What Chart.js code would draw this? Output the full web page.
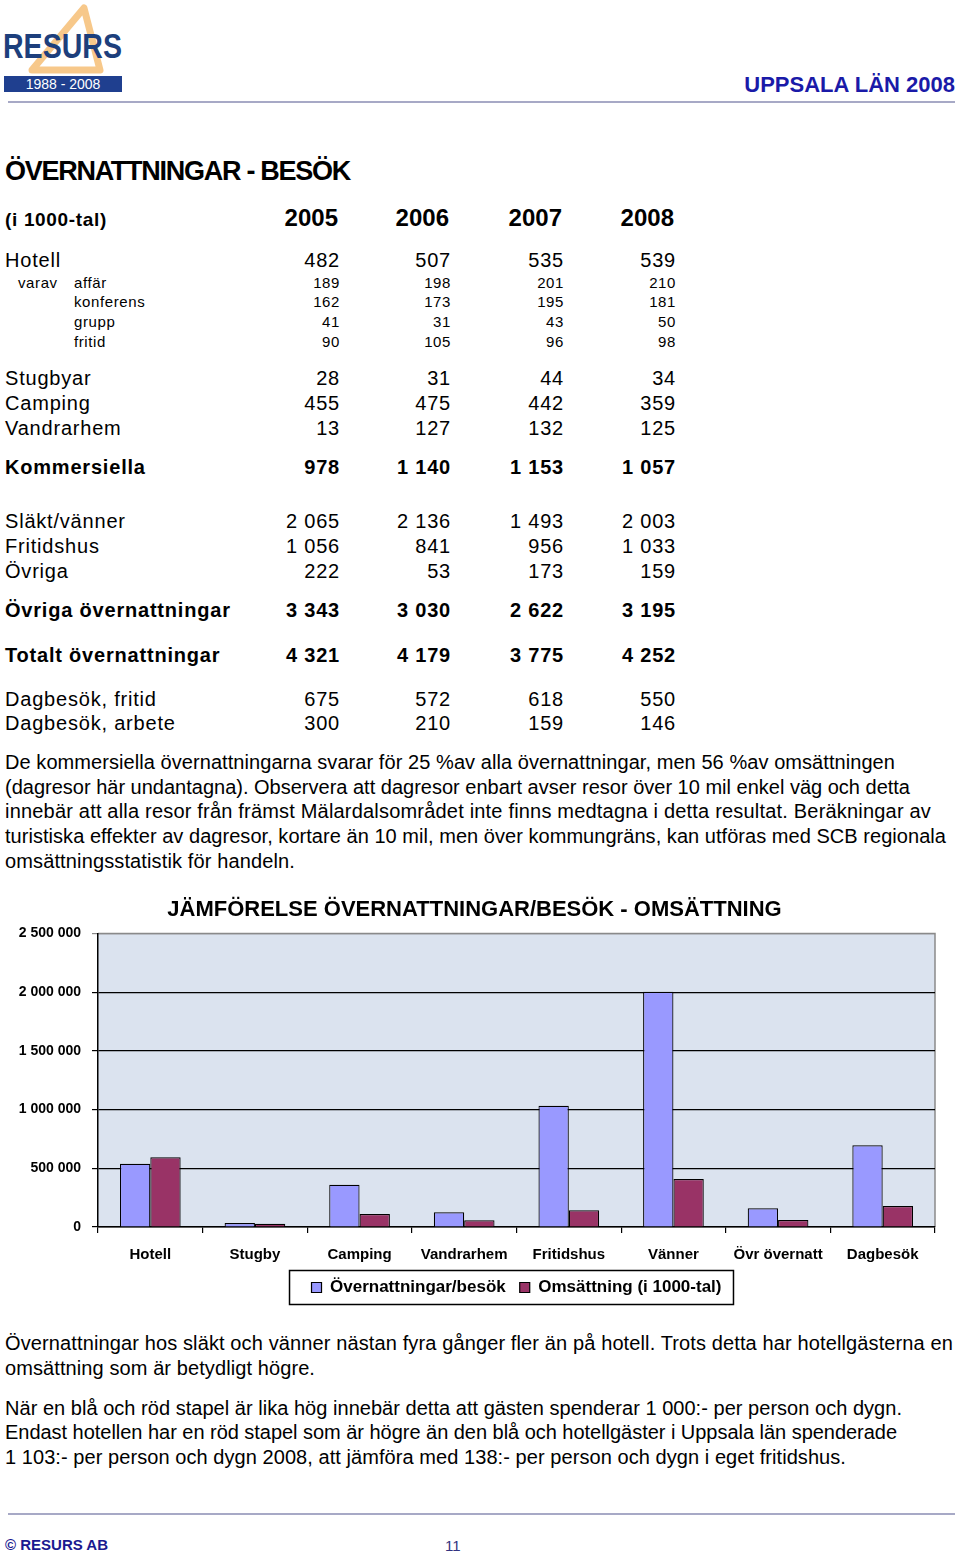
<!DOCTYPE html>
<html><head><meta charset="utf-8">
<script src="https://cdn.jsdelivr.net/npm/chart.js@4.4.1/dist/chart.umd.min.js"></script>
<style>
html,body{margin:0;padding:0;background:#fff;}
body{width:960px;height:1556px;position:relative;overflow:hidden;font-family:"Liberation Sans Narrow","Arial Narrow","Liberation Sans",Arial,sans-serif;color:#000;}
.t{position:absolute;white-space:nowrap;transform:translateY(-50%);line-height:1;}
.hl{position:absolute;left:8px;width:947px;height:2px;background:#a7a9c6;}
#chartBox{position:absolute;left:0;top:880px;width:960px;height:432px;}
</style></head>
<body>
<svg style="position:absolute;left:0;top:0" width="130" height="96" viewBox="0 0 130 96">
  <polygon points="84,8 100,70 32,70" fill="none" stroke="#f7c88a" stroke-width="7" stroke-linejoin="round"/>
  <text x="3" y="58" font-family="Liberation Sans, Arial, sans-serif" font-weight="bold" font-size="35" fill="#1d3f7c" textLength="119" lengthAdjust="spacingAndGlyphs">RESURS</text>
  <rect x="4" y="76" width="118" height="16" fill="#1f3f8f"/>
  <text x="63" y="89" text-anchor="middle" font-family="Liberation Sans, Arial, sans-serif" font-size="14" fill="#fff">1988 - 2008</text>
</svg>
<div class="hl" style="top:101px"></div>
<div class="hl" style="top:1513px"></div>
<div id="page"></div>
<div id="chartBox"><canvas id="c"></canvas></div>
<script>
// ---------- chart data ----------
const categories = ['Hotell','Stugby','Camping','Vandrarhem','Fritidshus','Vänner','Övr övernatt','Dagbesök'];
const seriesNames = ['Övernattningar/besök','Omsättning (i 1000-tal)'];
const overnattningar = [539000, 34000, 359000, 125000, 1033000, 2003000, 159000, 696000];
const omsattning = [594500, 28000, 110000, 58000, 142500, 408000, 60000, 178000];
const yMax = 2500000;
const yStep = 500000;

// ---------- table data ----------
const years = ['2005','2006','2007','2008'];
const tableRows = [
  ['Hotell','', ['482','507','535','539'], 0, 260],
  ['varav','affär', ['189','198','201','210'], 1, 282],
  ['','konferens', ['162','173','195','181'], 1, 301],
  ['','grupp', ['41','31','43','50'], 1, 321],
  ['','fritid', ['90','105','96','98'], 1, 341],
  ['Stugbyar','', ['28','31','44','34'], 0, 378],
  ['Camping','', ['455','475','442','359'], 0, 403],
  ['Vandrarhem','', ['13','127','132','125'], 0, 428],
  ['Kommersiella','', ['978','1 140','1 153','1 057'], 2, 467],
  ['Släkt/vänner','', ['2 065','2 136','1 493','2 003'], 0, 521],
  ['Fritidshus','', ['1 056','841','956','1 033'], 0, 546],
  ['Övriga','', ['222','53','173','159'], 0, 571],
  ['Övriga övernattningar','', ['3 343','3 030','2 622','3 195'], 2, 610],
  ['Totalt övernattningar','', ['4 321','4 179','3 775','4 252'], 2, 655],
  ['Dagbesök, fritid','', ['675','572','618','550'], 0, 699],
  ['Dagbesök, arbete','', ['300','210','159','146'], 0, 723]
];
const colRight = [340, 451, 564, 676];
const para1 = [
  ['De kommersiella övernattningarna svarar för 25 %av alla övernattningar, men 56 %av omsättningen', 762, 890],
  ['(dagresor här undantagna). Observera att dagresor enbart avser resor över 10 mil enkel väg och detta', 787, 905],
  ['innebär att alla resor från främst Mälardalsområdet inte finns medtagna i detta resultat. Beräkningar av', 811, 926],
  ['turistiska effekter av dagresor, kortare än 10 mil, men över kommungräns, kan utföras med SCB regionala', 836, 941],
  ['omsättningsstatistik för handeln.', 861, 290]
];
const para2 = [
  ['Övernattningar hos släkt och vänner nästan fyra gånger fler än på hotell. Trots detta har hotellgästerna en', 1343, 948],
  ['omsättning som är betydligt högre.', 1368, 310],
  ['När en blå och röd stapel är lika hög innebär detta att gästen spenderar 1 000:- per person och dygn.', 1408, 897],
  ['Endast hotellen har en röd stapel som är högre än den blå och hotellgäster i Uppsala län spenderade', 1432, 892],
  ['1 103:- per person och dygn 2008, att jämföra med 138:- per person och dygn i eget fritidshus.', 1457, 841]
];

const page = document.getElementById('page');
function put(text, x, y, style, right, fitW){
  const d = document.createElement('div');
  d.className = 't';
  d.textContent = text;
  Object.assign(d.style, style||{});
  if (right) d.style.right = (960 - x) + 'px'; else d.style.left = x + 'px';
  d.style.top = y + 'px';
  page.appendChild(d);
  if (fitW){
    const w = d.getBoundingClientRect().width;
    const n = text.length;
    d.style.letterSpacing = ((fitW - w) / n) + 'px';
  }
  return d;
}
const body = {fontSize:'20px'};
const bold = {fontSize:'20px', fontWeight:'bold'};
const sub = {fontSize:'15px', letterSpacing:'0.6px'};
put('UPPSALA LÄN 2008', 955, 85, {fontFamily:'"Liberation Sans",Arial,sans-serif', fontWeight:'bold', fontSize:'22px', color:'#1a1aa8'}, true);
put('ÖVERNATTNINGAR - BESÖK', 5, 171, {fontSize:'27px', fontWeight:'bold'}, false, 345);
put('(i 1000-tal)', 5, 219, {fontSize:'19px', fontWeight:'bold'}, false, 102);
years.forEach((y,i)=>put(y, colRight[i]-2, 218, {fontSize:'24px', fontWeight:'bold'}, true));
tableRows.forEach(r=>{
  const [a,b,vals,kind,y] = r;
  let st = kind===1 ? sub : (kind===2 ? Object.assign({letterSpacing:'0.8px'},bold) : Object.assign({letterSpacing:'0.8px'},body));
  if (kind===1){
    if (a) put(a, 18, y, st);
    put(b, 74, y, st);
  } else put(a, 5, y, st);
  vals.forEach((v,i)=>put(v, colRight[i], y, st, true));
});
para1.forEach(p=>put(p[0], 5, p[1], body, false, p[2]));
para2.forEach(p=>put(p[0], 5, p[1], body, false, p[2]));
put('© RESURS  AB', 5, 1544, {fontFamily:'"Liberation Sans",Arial,sans-serif', fontWeight:'bold', fontSize:'15px', color:'#1a1a90'});
put('11', 445, 1545, {fontFamily:'"Liberation Sans",Arial,sans-serif', fontSize:'15px', color:'#333380'});

// ---------- chart ----------
const narrow = '"Liberation Sans Narrow","Arial Narrow","Liberation Sans",Arial,sans-serif';
const deco = {
  id:'deco',
  beforeDraw(chart){
    const {ctx, chartArea:a} = chart;
    ctx.save();
    ctx.fillStyle = '#dbe3ef';
    ctx.fillRect(a.left, a.top, a.right-a.left, a.bottom-a.top);
    ctx.strokeStyle = '#8a8a8a'; ctx.lineWidth = 1.5;
    ctx.beginPath(); ctx.moveTo(a.left, a.top); ctx.lineTo(a.right, a.top); ctx.lineTo(a.right, a.bottom); ctx.stroke();
    ctx.restore();
  },
  afterDraw(chart){
    const hb = chart.legend && chart.legend.legendHitBoxes;
    if (!hb || !hb.length) return;
    let l=Infinity, r=-Infinity, t=Infinity, b=-Infinity;
    hb.forEach(h=>{l=Math.min(l,h.left); r=Math.max(r,h.left+h.width); t=Math.min(t,h.top); b=Math.max(b,h.top+h.height);});
    const cy = (t+b)/2;
    const ctx = chart.ctx;
    ctx.save(); ctx.strokeStyle='#000'; ctx.lineWidth=1.5;
    ctx.strokeRect(l-22, cy-17, (r-l)+34, 34);
    ctx.restore();
  }
};
new Chart(document.getElementById('c'), {
  type:'bar',
  data:{
    labels: categories,
    datasets:[
      {label: seriesNames[0], data: overnattningar, backgroundColor:'#9999ff', borderColor:'#000', borderWidth:1.2},
      {label: seriesNames[1], data: omsattning, backgroundColor:'#993366', borderColor:'#000', borderWidth:1.2}
    ]
  },
  options:{
    responsive:true, maintainAspectRatio:false, animation:false,
    layout:{padding:{left:14, right:25, top:0, bottom:6}},
    datasets:{bar:{categoryPercentage:0.58, barPercentage:1.0}},
    plugins:{
      title:{display:true, text:'JÄMFÖRELSE ÖVERNATTNINGAR/BESÖK - OMSÄTTNING', color:'#000',
        font:{family:'"Liberation Sans",Arial,sans-serif', size:22, weight:'bold'}, padding:{top:17, bottom:10}},
      legend:{display:true, position:'bottom', fullSize:false,
        labels:{color:'#000', font:{family:narrow, size:17, weight:'bold'}, boxWidth:10, boxHeight:10, padding:14}},
      tooltip:{enabled:false}
    },
    scales:{
      x:{
        grid:{drawOnChartArea:false, drawTicks:true, tickLength:6, offset:true, color:'#000', lineWidth:1.2},
        border:{display:true, color:'#000', width:1.5},
        ticks:{color:'#000', font:{family:narrow, size:15, weight:'bold'}, padding:13, maxRotation:0, autoSkip:false},
        afterFit(s){ s.height = 38; }
      },
      y:{
        min:0, max:yMax,
        grid:{color:(c)=> (c.tick && c.tick.value===yMax) ? '#8a8a8a' : '#000', lineWidth:1.2, tickLength:6, drawTicks:true},
        border:{display:true, color:'#000', width:1.5},
        ticks:{stepSize:yStep, color:'#000', padding:11, font:{family:narrow, size:14, weight:'bold'},
          callback:(v)=> String(v).replace(/\B(?=(\d{3})+(?!\d))/g,' ')},
        afterFit(s){ s.width = 84; }
      }
    }
  },
  plugins:[deco]
});
</script>
</body></html>
